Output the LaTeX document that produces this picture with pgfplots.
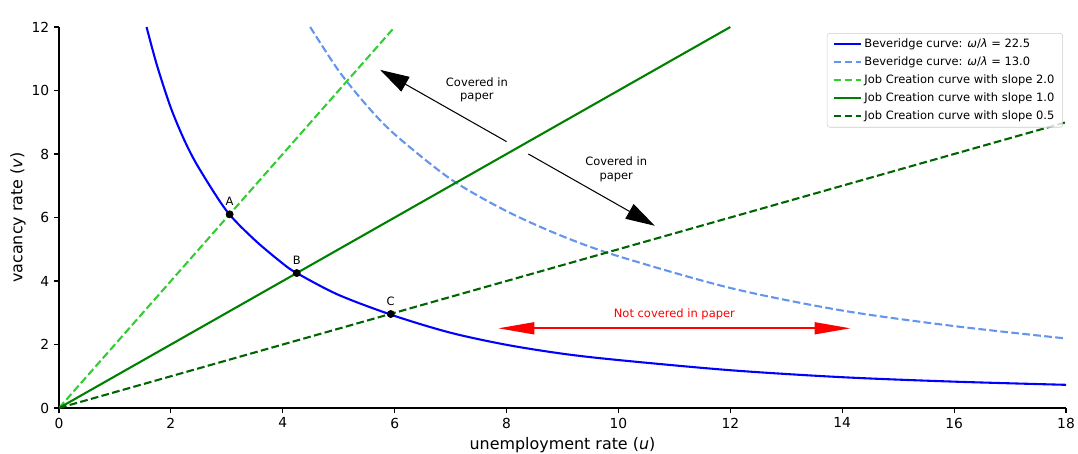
\documentclass[border=0pt]{standalone}
\usepackage{fontspec}
\setmainfont{DejaVu Sans}
\usepackage{pgfplots}
\pgfplotsset{compat=1.18}
\usetikzlibrary{arrows.meta}
\definecolor{bevA}{RGB}{0,0,255}
\definecolor{bevB}{RGB}{100,149,237}
\definecolor{jcA}{RGB}{50,205,50}
\definecolor{jcB}{RGB}{0,128,0}
\definecolor{jcC}{RGB}{0,100,0}
\begin{document}
\begin{tikzpicture}
\path[use as bounding box] (-42.48bp,-33.12bp) rectangle (733.68bp,293.76bp);
\begin{axis}[
  at={(0,0)}, anchor=south west,
  scale only axis, width=725.04bp, height=274.32bp,
  xmin=0, xmax=18, ymin=0, ymax=12,
  axis x line*=bottom, axis y line*=left,
  axis line style={line width=0.8bp, black},
  tick align=outside, major tick length=3.5bp,
  tick style={line width=0.8bp, black},
  xtick={0,2,...,18}, ytick={0,2,...,12},
  /pgf/number format/assume math mode=true,
  ticklabel style={font=\fontsize{10}{12}\selectfont},
  xlabel={unemployment rate (\textit{u})},
  ylabel={vacancy rate (\textit{v})},
  xlabel style={font=\fontsize{11.5}{13}\selectfont, at={(axis description cs:0.5,0)}, anchor=center, yshift=-26.6bp},
  ylabel style={font=\fontsize{11.5}{13}\selectfont, at={([xshift=-29.5bp]axis description cs:0,0.5)}, anchor=center},
  legend style={at={(rel axis cs:0.997,0.984)}, anchor=north east,
    draw=black!20, rounded corners=2bp, fill=white, fill opacity=0.8, text opacity=1,
    font=\fontsize{8.3}{10}\selectfont, row sep=1.2bp, inner xsep=4bp, inner ysep=2bp},
  legend cell align=left,
  legend image code/.code={\draw[#1] (0bp,0bp) -- (19.4bp,0bp);},
]
% intersection points (drawn beneath the curves)
\addplot[only marks, mark=*, mark size=2.6bp, black, forget plot] coordinates {(3.05,6.10) (4.25,4.25) (5.93,2.96)};

\addplot[bevA, line width=1.5bp, smooth] coordinates {
(1.565,12.0) (1.75,10.8) (2.0,9.45) (2.25,8.4) (2.5,7.56) (3.0,6.2) (3.5,5.29) (4.0,4.55) (4.25,4.25)
(5.0,3.56) (6.0,2.90) (7.0,2.37) (8.0,1.99) (9.0,1.71) (10.0,1.51) (12.0,1.19) (14.0,0.97) (16.0,0.83) (18.0,0.73)};
\addlegendentry{Beveridge curve: \textit{ω}/\textit{λ} = 22.5}

\addplot[bevB, line width=1.5bp, dash pattern=on 5.55bp off 2.4bp, smooth] coordinates {
(4.49,12.0) (5.0,10.62) (5.5,9.53) (6.0,8.62) (7.0,7.21) (8.0,6.20) (9.0,5.41) (10.0,4.78) (12.0,3.78) (14.0,3.07) (16.0,2.58) (18.0,2.19)};
\addlegendentry{Beveridge curve: \textit{ω}/\textit{λ} = 13.0}

\addplot[jcA, line width=1.5bp, dash pattern=on 5.55bp off 2.4bp] coordinates {(0,0) (6,12)};
\addlegendentry{Job Creation curve with slope 2.0}

\addplot[jcB, line width=1.5bp] coordinates {(0,0) (12,12)};
\addlegendentry{Job Creation curve with slope 1.0}

\addplot[jcC, line width=1.5bp, dash pattern=on 5.55bp off 2.4bp] coordinates {(0,0) (18,9)};
\addlegendentry{Job Creation curve with slope 0.5}

% point labels
\node[font=\fontsize{8.3}{10}\selectfont, anchor=base, yshift=6.3bp] at (axis cs:3.05,6.10) {A};
\node[font=\fontsize{8.3}{10}\selectfont, anchor=base, yshift=6.3bp] at (axis cs:4.25,4.25) {B};
\node[font=\fontsize{8.3}{10}\selectfont, anchor=base, yshift=6.3bp] at (axis cs:5.93,2.96) {C};

% annotations
\draw[black, line width=0.75bp, -{Triangle[length=21bp,width=12bp]}] (axis cs:8.0,8.39) -- (axis cs:5.74,10.65);
\draw[black, line width=0.75bp, -{Triangle[length=21bp,width=12bp]}] (axis cs:8.39,8.0) -- (axis cs:10.65,5.74);
\node[font=\fontsize{8.3}{10}\selectfont, align=center] at (axis cs:7.47,10.02) {Covered in\\paper};
\node[font=\fontsize{8.3}{10}\selectfont, align=center] at (axis cs:9.96,7.52) {Covered in\\paper};

\draw[red, line width=1.5bp, {Triangle[length=26bp,width=8.5bp]}-{Triangle[length=26bp,width=8.5bp]}] (axis cs:7.85,2.51) -- (axis cs:14.15,2.51);
\node[red, font=\fontsize{8.3}{10}\selectfont] at (axis cs:11.0,2.96) {Not covered in paper};

% title
\node[anchor=base west, inner sep=0pt, font=\fontsize{12}{14}\selectfont] at ([xshift=-1.4bp, yshift=5bp]rel axis cs:0,1) {Two types of policy impacts.};
\end{axis}
\end{tikzpicture}
\end{document}
